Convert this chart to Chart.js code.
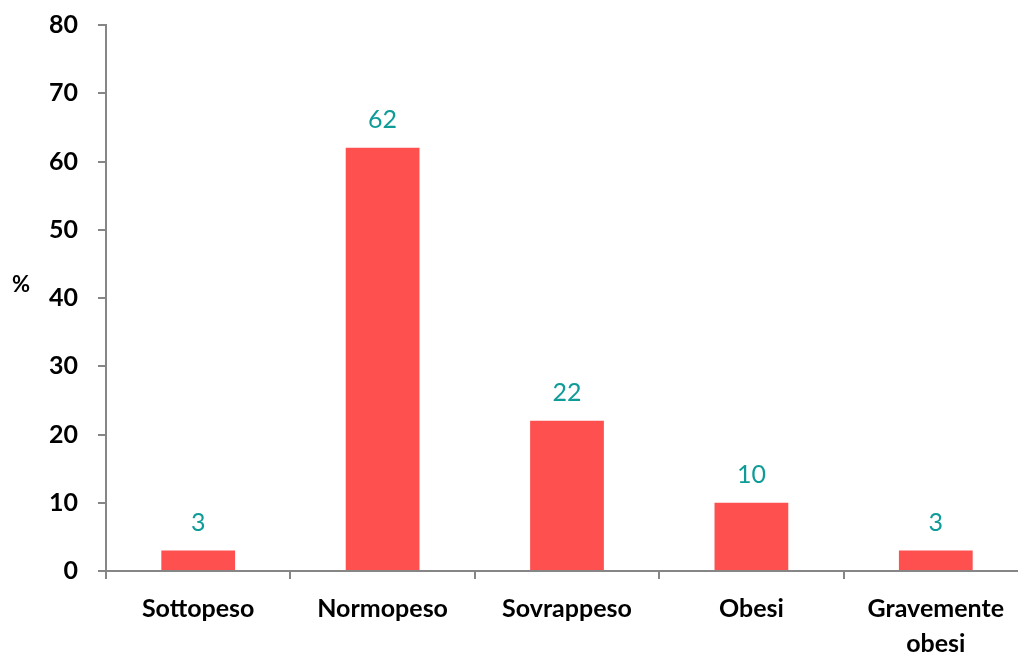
<!DOCTYPE html>
<html>
<head>
<meta charset="utf-8">
<script src="https://cdn.jsdelivr.net/npm/chart.js@4/dist/chart.umd.min.js"></script>
<style>
  html, body { margin: 0; padding: 0; background: #fff; overflow: hidden; }
  #wrap { width: 1040px; height: 653px; }
</style>
</head>
<body>
<div id="wrap"><canvas id="grafico"></canvas></div>
<script>
const categorie = ["Sottopeso", "Normopeso", "Sovrappeso", "Obesi", ["Gravemente", "obesi"]];
const percentuali = [3, 62, 22, 10, 3];
const asseY = { min: 0, max: 80, passo: 10 };

const fontBase = "Lato, 'Open Sans', 'Liberation Sans', sans-serif";

// etichette sopra le barre + simbolo % dell'asse
const etichette = {
  id: "etichette",
  afterDatasetsDraw(chart) {
    const ctx = chart.ctx;
    const meta = chart.getDatasetMeta(0);
    ctx.save();
    ctx.font = "25px " + fontBase;
    ctx.fillStyle = "#0f9c98";
    ctx.textAlign = "center";
    ctx.textBaseline = "middle";
    meta.data.forEach((bar, i) => {
      ctx.fillText(String(percentuali[i]), bar.x, bar.y - 28);
    });
    ctx.font = "bold 22px " + fontBase;
    ctx.fillStyle = "#000";
    const area = chart.chartArea;
    ctx.fillText("%", 21, (area.top + area.bottom) / 2 - 13);
    ctx.restore();
  }
};

new Chart(document.getElementById("grafico"), {
  type: "bar",
  data: {
    labels: categorie,
    datasets: [{
      data: percentuali,
      backgroundColor: "#ff5050",
      categoryPercentage: 1,
      barPercentage: 0.4
    }]
  },
  options: {
    responsive: true,
    maintainAspectRatio: false,
    animation: false,
    layout: { padding: { top: 25, right: 12, left: 0, bottom: 0 } },
    plugins: { legend: { display: false }, tooltip: { enabled: false } },
    scales: {
      x: {
        offset: true,
        grid: { offset: true, drawOnChartArea: false, color: "#868686", tickLength: 8, lineWidth: 2 },
        border: { color: "#868686", width: 2 },
        ticks: { color: "#000", font: { family: fontBase, size: 25, weight: "bold", lineHeight: 1.4 }, padding: 12, maxRotation: 0 },
        afterFit(scale) { scale.height = 82; scale.paddingLeft = 0; scale.paddingRight = 0; }
      },
      y: {
        min: asseY.min,
        max: asseY.max,
        ticks: { stepSize: asseY.passo, color: "#000", font: { family: fontBase, size: 25, weight: "bold", lineHeight: 1 }, padding: 20 },
        grid: { drawOnChartArea: false, color: "#868686", tickLength: 8, lineWidth: 2 },
        border: { color: "#868686", width: 2 },
        afterFit(scale) { scale.width = 106; scale.paddingTop = 0; scale.paddingBottom = 0; }
      }
    }
  },
  plugins: [etichette]
});
</script>
</body>
</html>
